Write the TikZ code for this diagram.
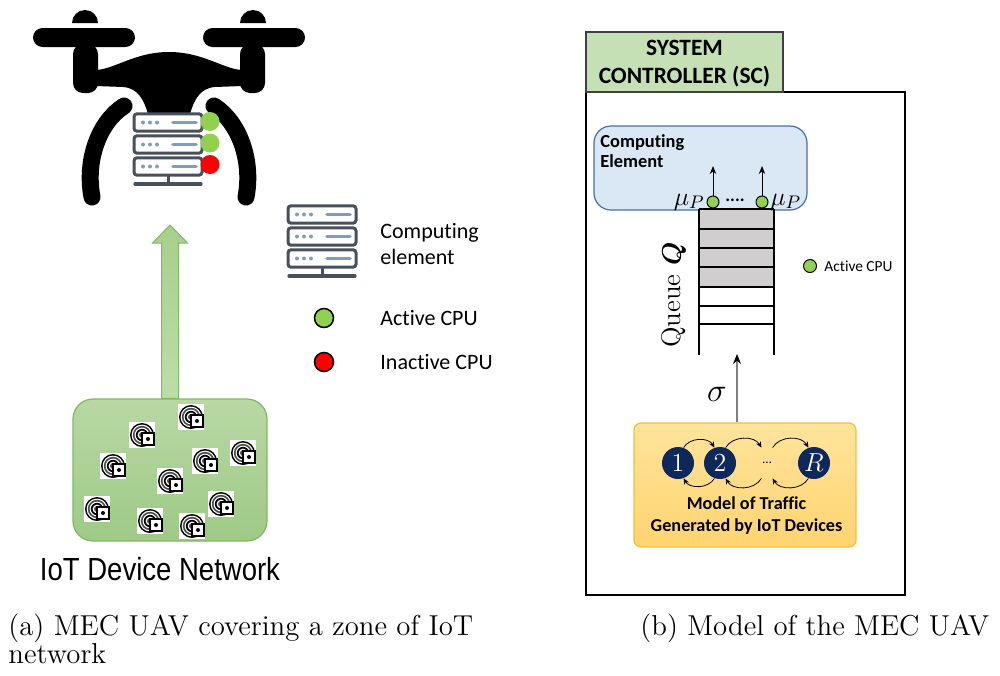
\RequirePackage{fix-cm}
\documentclass[tikz,border=0pt]{standalone}
\usepackage{amsmath}
\usepackage{fontspec}
\usepackage{graphicx}
\usetikzlibrary{fit,arrows.meta,calc}
\newfontfamily\calib[Ligatures=NoCommon]{Carlito}
\newfontfamily\narrowsans{Liberation Sans}

\definecolor{srvgray}{RGB}{72,80,92}
\definecolor{srvblue}{RGB}{125,158,192}
\definecolor{cpugreen}{RGB}{146,208,80}
\definecolor{cpured}{RGB}{255,0,0}
\definecolor{netA}{RGB}{184,216,164}
\definecolor{netB}{RGB}{158,202,134}
\definecolor{netline}{RGB}{130,184,98}
\definecolor{arrA}{RGB}{166,207,140}
\definecolor{arrB}{RGB}{188,221,168}
\definecolor{scgreen}{RGB}{197,224,180}
\definecolor{ceblue}{RGB}{218,232,246}
\definecolor{celine}{RGB}{70,110,170}
\definecolor{qgray}{RGB}{208,206,206}
\definecolor{navy}{RGB}{14,40,92}
\definecolor{trafA}{RGB}{255,228,156}
\definecolor{trafB}{RGB}{255,212,112}
\definecolor{trafline}{RGB}{245,190,60}

\tikzset{
  server/.pic={
    \foreach \o in {0,22,44}{
      \draw[srvgray, line width=1.5pt, fill=white, rounded corners=1.5pt]
        (1,\o+0.8) rectangle (69,\o+18.2);
      \foreach \d in {10,17,24}
        \fill[srvblue] (\d,\o+9.5) circle[radius=1pt];
      \draw[srvblue, line width=1.8pt, line cap=round] (40,\o+9.5) -- (63,\o+9.5);
    }
    \draw[srvgray, line width=1.5pt] (35,62.5) -- (35,70);
    \draw[srvgray, line width=1.6pt, line cap=round] (2,71) -- (68,71);
  },
  iotdev/.pic={
    \fill[white] (-13,-13) rectangle (13,13);
    \begin{scope}
      \clip (-13,-13) rectangle (13,13);
      \fill[black] (0,0) circle[radius=6pt];
      \fill[white] (0,0) circle[radius=5.2pt];
      \fill[black!70] (0,0) circle[radius=4.6pt];
      \fill[white] (0,0) circle[radius=3.7pt];
      \fill[black] (0,0) circle[radius=3.1pt];
      \fill[white] (0,0) circle[radius=2.2pt];
      \fill[black!70] (0,0) circle[radius=1.5pt];
    \end{scope}
    \draw[black, line width=1.1pt, fill=white] (0,-2) rectangle (12,10);
    \fill[black] (6,4) circle[radius=1pt];
  },
  cpu/.style={circle, fill=cpugreen, draw=black, line width=0.5pt,
    minimum size=6pt, inner sep=0pt},
  dronecpu/.style={circle, minimum size=9.5pt, inner sep=0pt},
  legcpu/.style={circle, draw=black, line width=0.75pt, minimum size=9.5pt, inner sep=0pt},
  state/.style={circle, fill=navy, text=white, minimum size=16pt, inner sep=0pt,
    font=\fontsize{13}{15}\selectfont},
  hop/.style={-{Stealth[length=3pt,width=2.6pt]}, line width=0.4pt, black},
  up/.style={-{Stealth[length=4pt,width=3.2pt]}, line width=0.5pt, black},
  legendtext/.style={anchor=west, inner sep=0pt, font=\calib\fontsize{11}{13}\selectfont},
  caption/.style={anchor=base west, inner sep=0pt, font=\fontsize{14.4}{17}\selectfont},
}

\begin{document}
\begin{tikzpicture}[x=0.5pt, y=-0.5pt]
\useasboundingbox (0,0) rectangle (1000,675);

% ---------------- UAV carrying the computing element ----------------
\foreach \s in {1,-1}{
  \begin{scope}[shift={(169,0)}, xscale=\s]
    \fill[black] (-97,23) arc[start angle=180, end angle=0, radius=6.5pt] -- cycle;
    \fill[black, rounded corners=4.75pt] (-136,28) rectangle (-34,47);
    \fill[black, rounded corners=5pt] (-96,44) rectangle (-71,93);
    \draw[black, line width=8.5pt, line cap=round]
      (-45,106) .. controls (-70,122) and (-84,160) .. (-77,197);
  \end{scope}
}
\fill[black] (96,70) .. controls (115,69) and (135,52) .. (169,52)
  .. controls (203,52) and (223,69) .. (242,70) -- (242,86) -- (215,87)
  .. controls (200,88) and (194,100) .. (190,114) -- (148,114)
  .. controls (144,100) and (138,88) .. (123,87) -- (96,86) -- cycle;
\pic at (133,113) {server};
\node[dronecpu, fill=cpugreen] (d1) at (210,121.5) {};
\node[dronecpu, fill=cpugreen] (d2) at (210,143) {};
\node[dronecpu, fill=cpured]   (d3) at (210,164.5) {};
\coordinate (uav) at (169.5,225);

% ---------------- legend ----------------
\pic at (287,205) {server};
\node[legendtext, align=left] (lgce) at (380,244) {Computing\\element};
\node[legcpu, fill=cpugreen] (lga) at (324,318) {};
\node[legendtext] at (380,318) {Active CPU};
\node[legcpu, fill=cpured] (lgi) at (324,362) {};
\node[legendtext] at (380,362) {Inactive CPU};

% ---------------- IoT device network ----------------
\node[fit={(73,399) (267,541)}, inner sep=0pt, draw=netline, line width=0.6pt,
  top color=netA, bottom color=netB, rounded corners=10pt] (net) {};
\foreach \p in {(191,417),(142,435),(243,453),(205,461),(113,466),
                (170,481),(221,504),(97,509),(150,521),(192,526)}
  \pic at \p {iotdev};
\node[anchor=base, inner sep=0pt, font=\narrowsans\fontsize{16}{19}\selectfont]
  at (160,580) {\scalebox{0.86}[1]{IoT Device Network}};

% uplink arrow
\coordinate (tip) at (net.north |- uav);
\draw[netline, line width=0.5pt, top color=arrA, bottom color=arrB]
  ($(net.north)+(-8.5,0)$) -- ($(tip)+(-8.5,18)$) -- ($(tip)+(-17.5,18)$) -- (tip)
  -- ($(tip)+(17.5,18)$) -- ($(tip)+(8.5,18)$) -- ($(net.north)+(8.5,0)$) -- cycle;

% ---------------- system controller model ----------------
\node[fit={(586,92) (905,595)}, inner sep=0pt, draw=black, line width=0.75pt] (sc) {};
\node[fit={(586,32) (783,92)}, inner sep=0pt, draw=black!75, line width=0.75pt,
  fill=scgreen] (schead) {};
\node[align=center, inner sep=0pt, font=\calib\bfseries\fontsize{11.7}{14}\selectfont]
  at (684.5,64) {SYSTEM\\CONTROLLER (SC)};

% computing element
\node[fit={(594,126) (807,210)}, inner sep=0pt, draw=celine, line width=0.6pt,
  fill=ceblue, rounded corners=8.5pt] (ce) {};
\node[anchor=north west, align=left, inner sep=0pt,
  font=\calib\bfseries\fontsize{9.2}{10}\selectfont] at (600,134) {Computing\\Element};

% queue
\fill[qgray] (699,209) rectangle (774,287);
\draw[line width=0.6pt] (699,209) -- (699,355) (774,209) -- (774,355);
\foreach \y in {209,229,248,267,287,306,324}
  \draw[line width=0.6pt] (699,\y) -- (774,\y);
\node[rotate=90, inner sep=0pt, font=\fontsize{13.5}{15}\selectfont]
  at (674,295) {Queue $\boldsymbol{Q}$};

% processors
\node[cpu] (c1) at (713,202) {};
\node[cpu] (c2) at (762,202) {};
\coordinate (o1) at (713,166);
\coordinate (o2) at (762,166);
\draw[up] (c1.north) -- (o1);
\draw[up] (c2.north) -- (o2);
\node[anchor=base east, inner sep=0pt, font=\fontsize{13}{15}\selectfont] at (705,205) {$\mu_P$};
\node[anchor=base west, inner sep=0pt, font=\fontsize{13}{15}\selectfont] at (770,205) {$\mu_P$};
\node[inner sep=0pt, font=\calib\bfseries\fontsize{9}{10}\selectfont] at (735,200) {....};

\node[cpu, minimum size=6.5pt] (sca) at (810,266) {};
\node[anchor=west, inner sep=0pt, font=\calib\fontsize{7.7}{9}\selectfont] at (824,266) {Active CPU};

% traffic model
\node[fit={(634,423) (856,547)}, inner sep=0pt, draw=trafline, line width=0.6pt,
  top color=trafA, bottom color=trafB, rounded corners=3.5pt] (traffic) {};
\node[state] (s1) at (678,463) {1};
\node[state] (s2) at (720,463) {2};
\node[circle, minimum size=16pt, inner sep=0pt, font=\calib\fontsize{6.5}{8}\selectfont]
  (sd) at (767,463) {…};
\node[state] (sr) at (814,463) {$R$};
\draw[hop] (s1.70) to[bend left=60] (s2.110);
\draw[hop] (s2.70) to[bend left=60] (sd.110);
\draw[hop] (sd.70) to[bend left=60] (sr.110);
\draw[hop] (s2.250) to[bend left=60] (s1.290);
\draw[hop] (sd.250) to[bend left=60] (s2.290);
\draw[hop] (sr.250) to[bend left=60] (sd.290);
\node[align=center, inner sep=0pt, font=\calib\bfseries\fontsize{9.1}{11}\selectfont]
  at (746.5,516) {Model of Traffic\\Generated by IoT Devices};

% arrival flow into the queue
\coordinate (qin) at (737,354);
\draw[black!50, line width=0.75pt, -{Stealth[length=5pt,width=4pt,black]}]
  (traffic.north -| qin) -- (qin);
\node[inner sep=0pt, font=\fontsize{16.5}{18}\selectfont] at (717,394) {$\sigma$};

% ---------------- captions ----------------
\node[caption] at (8,635) {(a) MEC UAV covering a zone of IoT};
\node[caption] at (8,663) {network};
\node[caption] at (640,635) {(b) Model of the MEC UAV};
\end{tikzpicture}
\end{document}
